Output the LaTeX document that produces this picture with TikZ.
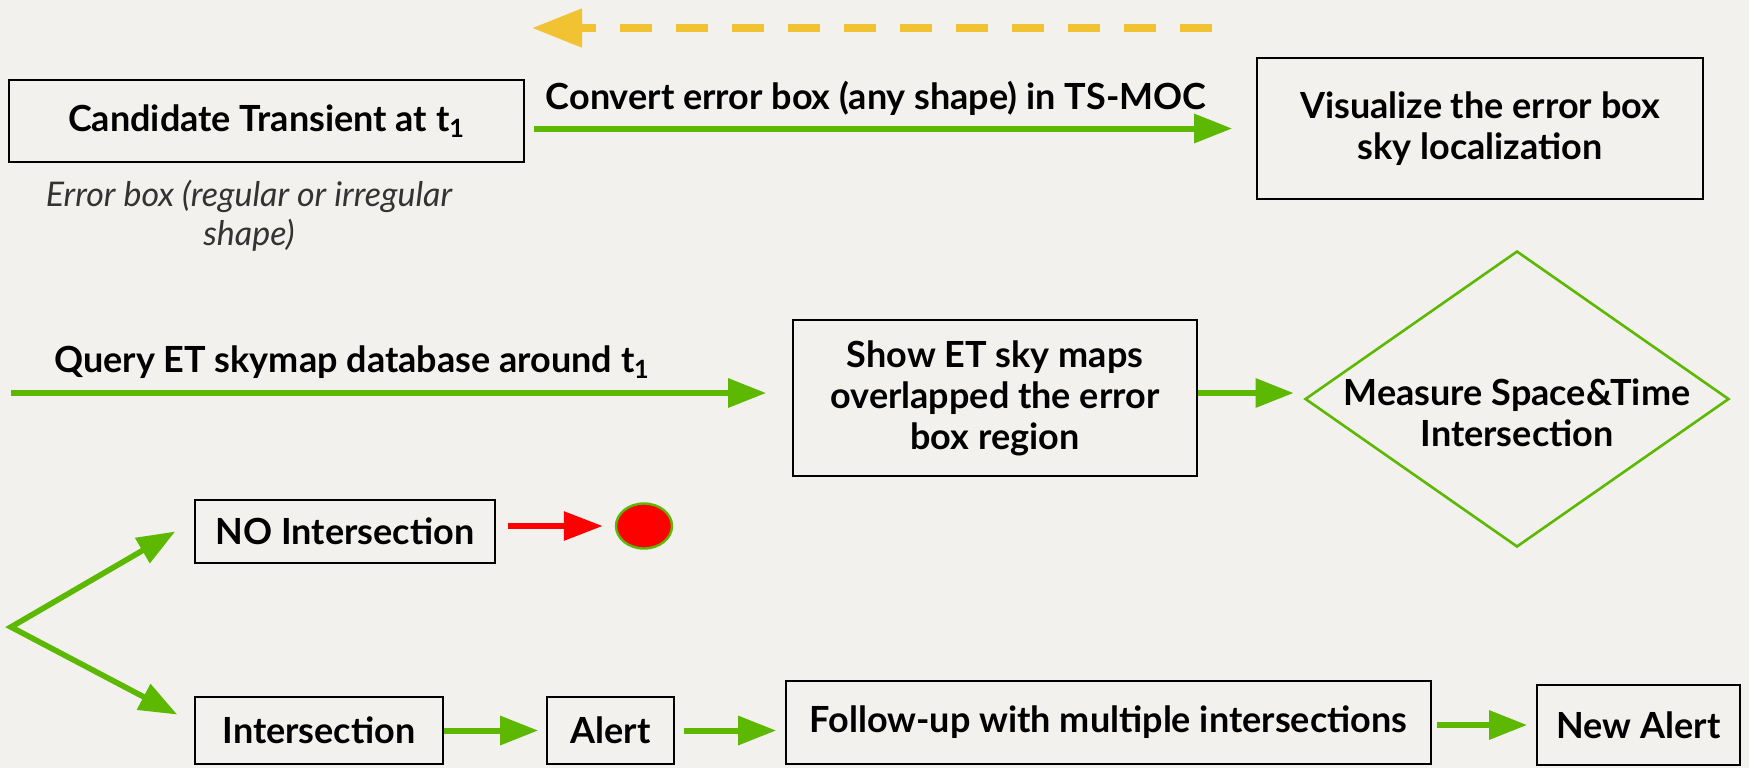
\documentclass[tikz,border=0pt]{standalone}
\usepackage{fontspec}
\setmainfont{Lato}
\usetikzlibrary{arrows.meta, shapes.geometric}
\definecolor{paper}{RGB}{242,241,238}
\definecolor{leaf}{RGB}{92,184,0}
\definecolor{mustard}{RGB}{241,194,50}

\begin{document}
\begin{tikzpicture}[
  x=0.5pt, y=-0.5pt,
  every node/.style={font=\bfseries\fontsize{18}{20.5}\selectfont, align=center},
  box/.style={draw=black, line width=0.8pt, inner sep=0pt},
  flow/.style={draw=leaf, line width=3pt, -{Triangle[length=19pt, width=14pt]}},
  fork/.style={draw=leaf, line width=2.8pt, {Triangle[length=19pt, width=14pt]}-{Triangle[length=19pt, width=14pt]}},
  halt/.style={draw=red, line width=3pt, -{Triangle[length=19.5pt, width=14pt]}},
  back/.style={draw=mustard, line width=4pt, dash pattern=on 16pt off 12pt, -{Triangle[length=25pt, width=18.5pt]}}
]
\fill[paper] (0,0) rectangle (1749,768);
\useasboundingbox (0,0) rectangle (1749,768);

\coordinate (backtail) at (1212,28);
\coordinate (backtip) at (532,28);
\draw[back] (backtail) -- (backtip);

\node[box, minimum width=257.5pt, minimum height=41pt] (cand) at (266.5,121) {Candidate Transient at t\textsubscript{1}};
\node[font=\itshape\fontsize{17}{19.5}\selectfont, text=black!80] (ebox) at (249,216) {Error box (regular or irregular\\shape)};
\node[box, minimum width=223pt, minimum height=70.5pt] (vis) at (1480,128.5) {Visualize the error box\\sky localization};
\node (convlbl) at (876,98) {Convert error box (any shape) in TS-MOC};
\draw[flow, shorten <=4.5pt, shorten >=12pt] (cand.east |- vis.west) -- (vis.west);

\coordinate (qstart) at (11,393);
\node (querylbl) at (352,362) {Query ET skymap database around t\textsubscript{1}};
\node[box, minimum width=202pt, minimum height=78pt] (show) at (995,398) {Show ET sky maps\\overlapped the error\\box region};
\node[diamond, draw=leaf, line width=1.3pt, minimum width=212pt, minimum height=148pt, inner sep=0pt] (measure) at (1517,399) {};
\node (measurelbl) at (1517,413) {Measure Space\&Time\\Intersection};
\draw[flow, shorten >=13pt] (qstart) -- (qstart -| show.west);
\draw[flow, shorten >=5pt] (show.east |- qstart) -- (measure.west |- qstart);

\node[box, minimum width=150pt, minimum height=31.5pt] (noint) at (345,531.5) {NO Intersection};
\node[ellipse, fill=red, draw=leaf, line width=1.2pt, minimum width=28pt, minimum height=22.5pt, inner sep=0pt] (dot) at (644,526) {};
\draw[halt, shorten <=6pt, shorten >=6pt] (noint.east |- dot) -- (dot.west);

\node[box, minimum width=124pt, minimum height=33.5pt] (inter) at (319,730.5) {Intersection};
\node[box, minimum width=63.5pt, minimum height=33.5pt] (alert) at (610.5,730.5) {Alert};
\node[box, minimum width=322.5pt, minimum height=41.5pt] (follow) at (1108.5,722.5) {Follow-up with multiple intersections};
\node[box, minimum width=101.5pt, minimum height=40pt] (newalert) at (1638.5,725) {New Alert};

\coordinate (split) at (11,627);
\draw[fork] ([xshift=-9.5pt]noint.west) -- (split) -- ([xshift=-8.5pt, yshift=8pt]inter.west);
\draw[flow, shorten >=4pt] (inter.east) -- (alert.west);
\draw[flow, shorten <=4.5pt, shorten >=4.5pt] (alert.east) -- (follow.west |- alert.east);
\draw[flow, shorten <=2.5pt, shorten >=4.5pt] (follow.east |- newalert.west) -- (newalert.west);
\end{tikzpicture}
\end{document}
